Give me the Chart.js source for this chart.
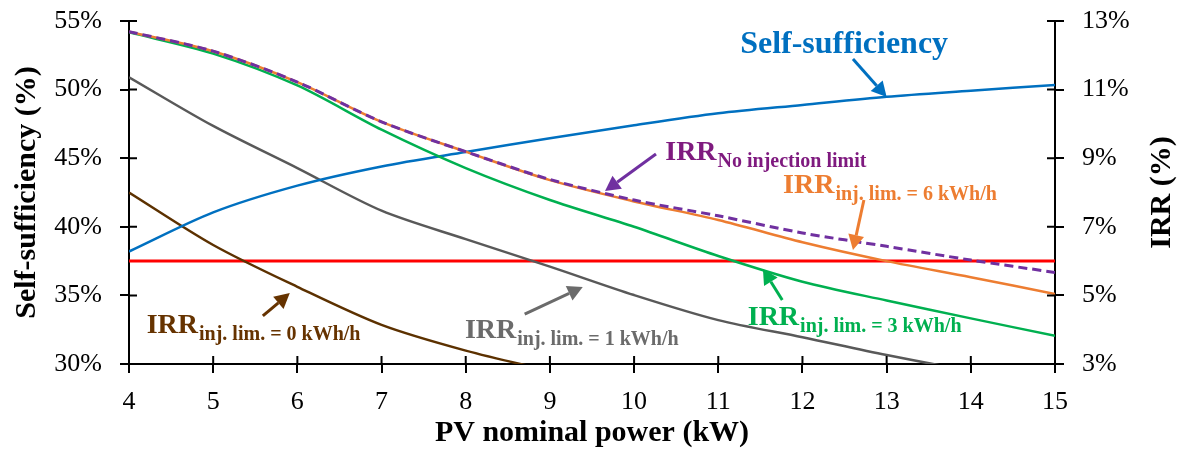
<!DOCTYPE html>
<html>
<head>
<meta charset="utf-8">
<script src="https://cdn.jsdelivr.net/npm/chart.js@4.4.1/dist/chart.umd.min.js"></script>
<style>
  html, body { margin: 0; padding: 0; background: #fff; }
  #wrap { width: 1177px; height: 452px; position: relative; }
</style>
</head>
<body>
<div id="wrap"><canvas id="chart"></canvas></div>
<script>
// PV nominal power (kW)
const powerKW = [4, 5, 6, 7, 8, 9, 10, 11, 12, 13, 14, 15];

// left axis: self-sufficiency (%)
const selfSufficiency = [38.2, 41.05, 43.0, 44.4, 45.45, 46.45, 47.4, 48.27, 48.88, 49.48, 49.92, 50.34];

// right axis: IRR (%) for each injection limit
const irrNoLimit = [12.69, 12.12, 11.22, 10.06, 9.19, 8.38, 7.78, 7.32, 6.82, 6.43, 6.03, 5.67];
const irrLim6 = [12.69, 12.12, 11.22, 10.06, 9.19, 8.36, 7.74, 7.2, 6.55, 6.0, 5.53, 5.04];
const irrLim3 = [12.67, 12.05, 11.12, 9.83, 8.71, 7.78, 7.0, 6.15, 5.4, 4.85, 4.33, 3.82];
const irrLim1 = [11.36, 9.94, 8.71, 7.47, 6.64, 5.84, 5.01, 4.28, 3.78, 3.26, 2.8, 2.4];
const irrLim0 = [8.0, 6.47, 5.25, 4.14, 3.39, 2.8];

// reference IRR line
const refIRR = [6.0, 6.0];
const refPower = [4, 15];

const SERIF = "'Liberation Serif', 'Times New Roman', serif";

const toPoints = (xs, ys) => ys.map((v, i) => ({ x: xs[i], y: v }));

// callout labels, placed in data units (x: kW, y: self-sufficiency %)
const callouts = [
  { main: 'Self-sufficiency', sub: '', color: '#0070C0', x: 11.26, y: 52.65, size: 32 },
  { main: 'IRR', sub: 'No injection limit', color: '#7F1A7F', x: 10.37, y: 44.87, size: 28 },
  { main: 'IRR', sub: 'inj. lim. = 6 kWh/h', color: '#ED7D31', x: 11.77, y: 42.46, size: 28 },
  { main: 'IRR', sub: 'inj. lim. = 3 kWh/h', color: '#00B050', x: 11.35, y: 32.84, size: 28 },
  { main: 'IRR', sub: 'inj. lim. = 1 kWh/h', color: '#6B6B6B', x: 7.99, y: 31.9, size: 28 },
  { main: 'IRR', sub: 'inj. lim. = 0 kWh/h', color: '#663300', x: 4.21, y: 32.24, size: 28 }
];

const arrows = [
  { from: [12.60, 52.23], to: [13.0, 49.46], color: '#0070C0' },
  { from: [10.26, 45.31], to: [9.655, 42.61], color: '#7030A0' },
  { from: [12.73, 41.95], to: [12.60, 38.31], color: '#ED7D31' },
  { from: [11.76, 34.66], to: [11.53, 36.92], color: '#00B050' },
  { from: [8.70, 33.64], to: [9.39, 35.61], color: '#6B6B6B' },
  { from: [5.59, 33.50], to: [5.91, 35.17], color: '#663300' }
];

function drawArrow(ctx, x1, y1, x2, y2, color) {
  const ang = Math.atan2(y2 - y1, x2 - x1);
  const len = 15, half = 8;
  const bx = x2 - len * Math.cos(ang), by = y2 - len * Math.sin(ang);
  ctx.strokeStyle = color;
  ctx.fillStyle = color;
  ctx.lineWidth = 3;
  ctx.beginPath();
  ctx.moveTo(x1, y1);
  ctx.lineTo(bx, by);
  ctx.stroke();
  ctx.beginPath();
  ctx.moveTo(x2, y2);
  ctx.lineTo(bx + half * Math.sin(ang), by - half * Math.cos(ang));
  ctx.lineTo(bx - half * Math.sin(ang), by + half * Math.cos(ang));
  ctx.closePath();
  ctx.fill();
}

const extras = {
  id: 'extras',
  afterDraw(chart) {
    const { ctx, chartArea: a } = chart;
    const x = chart.scales.x, ys = chart.scales.ySS, yi = chart.scales.yIRR;
    ctx.save();

    // inner half of the crossing tick marks
    ctx.strokeStyle = '#000';
    ctx.lineWidth = 2;
    ctx.beginPath();
    x.ticks.forEach(t => {
      const px = x.getPixelForValue(t.value);
      ctx.moveTo(px, a.bottom);
      ctx.lineTo(px, a.bottom - 8);
    });
    ys.ticks.forEach(t => {
      const py = ys.getPixelForValue(t.value);
      ctx.moveTo(a.left, py);
      ctx.lineTo(a.left + 8, py);
    });
    yi.ticks.forEach(t => {
      const py = yi.getPixelForValue(t.value);
      ctx.moveTo(a.right, py);
      ctx.lineTo(a.right - 8, py);
    });
    ctx.stroke();

    // axis titles
    ctx.fillStyle = '#000';
    ctx.font = `bold 30px ${SERIF}`;
    ctx.textAlign = 'center';
    ctx.textBaseline = 'middle';
    const midY = (a.top + a.bottom) / 2;
    ctx.save();
    ctx.translate(27, midY);
    ctx.rotate(-Math.PI / 2);
    ctx.fillText('Self-sufficiency (%)', 0, 0);
    ctx.restore();
    ctx.save();
    ctx.translate(1162, midY);
    ctx.rotate(-Math.PI / 2);
    ctx.fillText('IRR (%)', 0, 0);
    ctx.restore();
    ctx.fillText('PV nominal power (kW)', (a.left + a.right) / 2, 433);

    // arrows
    arrows.forEach(ar => {
      drawArrow(ctx,
        x.getPixelForValue(ar.from[0]), ys.getPixelForValue(ar.from[1]),
        x.getPixelForValue(ar.to[0]), ys.getPixelForValue(ar.to[1]), ar.color);
    });

    // callout texts
    ctx.textAlign = 'left';
    ctx.textBaseline = 'alphabetic';
    callouts.forEach(c => {
      const px = x.getPixelForValue(c.x), py = ys.getPixelForValue(c.y);
      ctx.fillStyle = c.color;
      ctx.font = `bold ${c.size}px ${SERIF}`;
      ctx.fillText(c.main, px, py);
      if (c.sub) {
        const w = ctx.measureText(c.main).width;
        ctx.font = `bold 20px ${SERIF}`;
        ctx.fillText(c.sub, px + w + 1, py + 7);
      }
    });
    ctx.restore();
  }
};

const lineStyle = { pointRadius: 0, borderWidth: 2.5, tension: 0.3, fill: false };

// fixed box sizes so the plot area sits where the original's does
function fixBox(w, h) {
  return s => {
    if (w) s.width = w;
    if (h) s.height = h;
    s.paddingTop = 0; s.paddingBottom = 0; s.paddingLeft = 0; s.paddingRight = 0;
  };
}

new Chart(document.getElementById('chart'), {
  type: 'line',
  data: {
    datasets: [
      { ...lineStyle, label: 'IRR no injection limit', data: toPoints(powerKW, irrNoLimit),
        borderColor: '#7030A0', borderDash: [9, 5], borderWidth: 3, yAxisID: 'yIRR', order: 0 },
      { ...lineStyle, label: 'IRR inj. lim. 6 kWh/h', data: toPoints(powerKW, irrLim6),
        borderColor: '#ED7D31', yAxisID: 'yIRR', order: 1 },
      { ...lineStyle, label: 'IRR inj. lim. 3 kWh/h', data: toPoints(powerKW, irrLim3),
        borderColor: '#00B050', yAxisID: 'yIRR', order: 2 },
      { ...lineStyle, label: 'Self-sufficiency', data: toPoints(powerKW, selfSufficiency),
        borderColor: '#0070C0', yAxisID: 'ySS', order: 3 },
      { ...lineStyle, label: 'IRR inj. lim. 1 kWh/h', data: toPoints(powerKW, irrLim1),
        borderColor: '#595959', yAxisID: 'yIRR', order: 4 },
      { ...lineStyle, label: 'IRR inj. lim. 0 kWh/h', data: toPoints(powerKW, irrLim0),
        borderColor: '#5C3100', yAxisID: 'yIRR', order: 5 },
      { ...lineStyle, label: 'Reference', data: toPoints(refPower, refIRR),
        borderColor: '#FF0000', borderWidth: 3, tension: 0, yAxisID: 'yIRR', order: 6 }
    ]
  },
  options: {
    responsive: true,
    maintainAspectRatio: false,
    animation: false,
    layout: { padding: { top: 21, left: 0, right: 0, bottom: 0 } },
    plugins: { legend: { display: false }, tooltip: { enabled: false } },
    scales: {
      x: {
        type: 'linear', position: 'bottom', min: 4, max: 15,
        ticks: { stepSize: 1, color: '#000', padding: 14, font: { family: SERIF, size: 26 } },
        grid: { drawOnChartArea: false, color: '#000', lineWidth: 2, tickLength: 9 },
        border: { color: '#000', width: 2 },
        afterFit: fixBox(0, 88)
      },
      ySS: {
        type: 'linear', position: 'left', min: 30, max: 55,
        ticks: { stepSize: 5, color: '#000', padding: 18, font: { family: SERIF, size: 26 },
          callback: v => v + '%' },
        grid: { drawOnChartArea: false, color: '#000', lineWidth: 2, tickLength: 9 },
        border: { color: '#000', width: 2 },
        afterFit: fixBox(129, 0)
      },
      yIRR: {
        type: 'linear', position: 'right', min: 3, max: 13,
        ticks: { stepSize: 2, color: '#000', padding: 18, font: { family: SERIF, size: 26 },
          callback: v => v + '%' },
        grid: { drawOnChartArea: false, color: '#000', lineWidth: 2, tickLength: 9 },
        border: { color: '#000', width: 2 },
        afterFit: fixBox(122, 0)
      }
    }
  },
  plugins: [extras]
});
</script>
</body>
</html>
